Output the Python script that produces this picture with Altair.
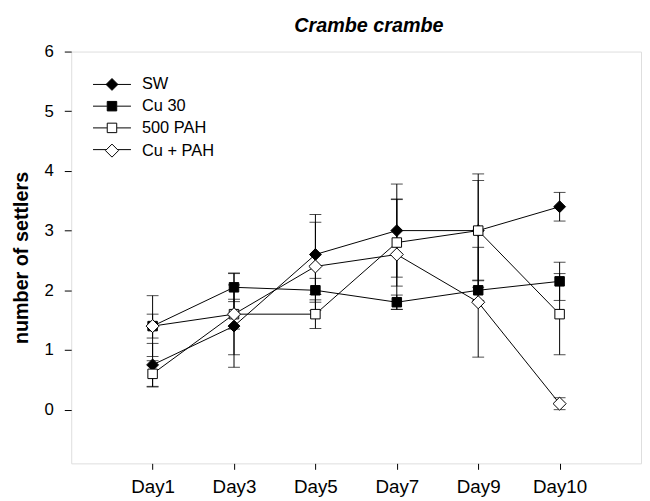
import altair as alt
import pandas as pd

days = ["Day1", "Day3", "Day5", "Day7", "Day9", "Day10"]
series = ["SW", "Cu 30", "500 PAH", "Cu + PAH"]

sw = [0.75, 1.4, 2.6, 3.0, 3.0, 3.4]
sw_err = [0.36, 0.69, 0.67, 0.78, 0.84, 0.24]
cu30 = [1.4, 2.05, 2.0, 1.8, 2.0, 2.15]
cu30_err = [0.2, 0.24, 0.2, 0.12, 0.17, 0.32]
pah = [0.6, 1.6, 1.6, 2.8, 3.0, 1.6]
pah_err = [0.22, 0.25, 0.24, 0.73, 0.95, 0.68]
cupah = [1.4, 1.6, 2.4, 2.6, 1.8, 0.1]
cupah_err = [0.51, 0.68, 0.74, 0.92, 0.92, 0.1]

# separate keys for the line legend so it is not merged with the marker legend
line_keys = [s + " line" for s in series]

rows = []
for s, k, vals, errs in zip(series, line_keys, [sw, cu30, pah, cupah],
                            [sw_err, cu30_err, pah_err, cupah_err]):
    for d, v, e in zip(days, vals, errs):
        rows.append({"day": d, "series": s, "series_line": k, "value": v,
                     "lo": v - e, "hi": v + e})
df = pd.DataFrame(rows)

FONT = "Liberation Sans"

x = alt.X("day:O", sort=days, scale=alt.Scale(type="point", padding=1),
          axis=alt.Axis(title=None, labelAngle=0, labelFontSize=19, labelFont=FONT,
                        labelColor="black", tickSize=6, tickColor="black",
                        labelPadding=9, domain=False))
yscale = alt.Scale(domain=[-0.9, 6], nice=False, zero=False)
y = alt.Y("value:Q", scale=yscale,
          axis=alt.Axis(title="number of settlers", values=[0, 1, 2, 3, 4, 5, 6],
                        format="d", grid=False, domain=False, tickSize=7,
                        tickColor="black", labelFontSize=17, labelFont=FONT,
                        labelColor="black", labelPadding=11, titleFont=FONT,
                        titleFontSize=20, titleFontWeight="bold", titleColor="black",
                        titlePadding=13))

base = alt.Chart(df)

LX, LY, RP, LFS = 33, 25, 5, 16.6
# legend that draws the connecting line (labels hidden)
leg_line = alt.Legend(title=None, orient="none", legendX=LX, legendY=LY, padding=0,
                      labelFont=FONT, labelFontSize=LFS, labelOpacity=0, labelOffset=22,
                      rowPadding=RP, symbolType="M-3.2,0H-0.85M0.85,0H3.2",
                      symbolSize=144, symbolStrokeColor="black", symbolStrokeWidth=1,
                      symbolFillColor="transparent")
# legend that draws the markers and labels
leg_mark = alt.Legend(title=None, orient="none", legendX=LX, legendY=LY, padding=0,
                      labelFont=FONT, labelFontSize=LFS, labelColor="black",
                      labelOpacity=1, labelOffset=22, rowPadding=RP,
                      symbolStrokeColor="black", symbolStrokeWidth=1, symbolSize=144,
                      symbolOpacity=1)

lines = base.mark_line(strokeWidth=1).encode(
    x=x, y=y,
    color=alt.Color("series_line:N", scale=alt.Scale(domain=line_keys,
                    range=["black", "black", "black", "black"]), legend=leg_line),
)
rules = base.mark_rule(color="black", strokeWidth=1).encode(
    x=x, y=alt.Y("lo:Q", scale=yscale), y2="hi:Q")
cap_lo = base.mark_tick(color="black", thickness=1, size=12, orient="horizontal").encode(
    x=x, y=alt.Y("lo:Q", scale=yscale))
cap_hi = base.mark_tick(color="black", thickness=1, size=12, orient="horizontal").encode(
    x=x, y=alt.Y("hi:Q", scale=yscale))

dia_f = "M0,-1.0L1.0,0L0,1.0L-1.0,0Z"
dia_o = "M0,-1.1L1.1,0L0,1.1L-1.1,0Z"
sq = "M-0.8,-0.8H0.8V0.8H-0.8Z"

points = base.mark_point(filled=True, opacity=1, strokeWidth=1, size=144).encode(
    x=x, y=y,
    shape=alt.Shape("series:N", scale=alt.Scale(domain=series,
                    range=[dia_f, sq, sq, dia_o]), legend=leg_mark),
    fill=alt.Fill("series:N", scale=alt.Scale(domain=series,
                  range=["black", "black", "white", "white"]), legend=leg_mark),
    stroke=alt.Stroke("series:N", scale=alt.Scale(domain=series,
                      range=["black", "black", "black", "black"]), legend=leg_mark),
)

chart = alt.layer(lines, rules, cap_lo, cap_hi, points).properties(
    width=577, height=417,
    title=alt.TitleParams("Crambe crambe", font=FONT, fontSize=20, fontStyle="italic",
                          fontWeight="bold", color="black", anchor="middle", offset=7,
                          dx=13),
    autosize=alt.AutoSizeParams(type="none"),
    padding={"left": 64, "top": 41, "right": 1, "bottom": 35},
).configure_view(stroke="#444", strokeWidth=1.5).configure(background="white")

chart.save("out.html", embed_options={"renderer": "svg", "actions": False})
